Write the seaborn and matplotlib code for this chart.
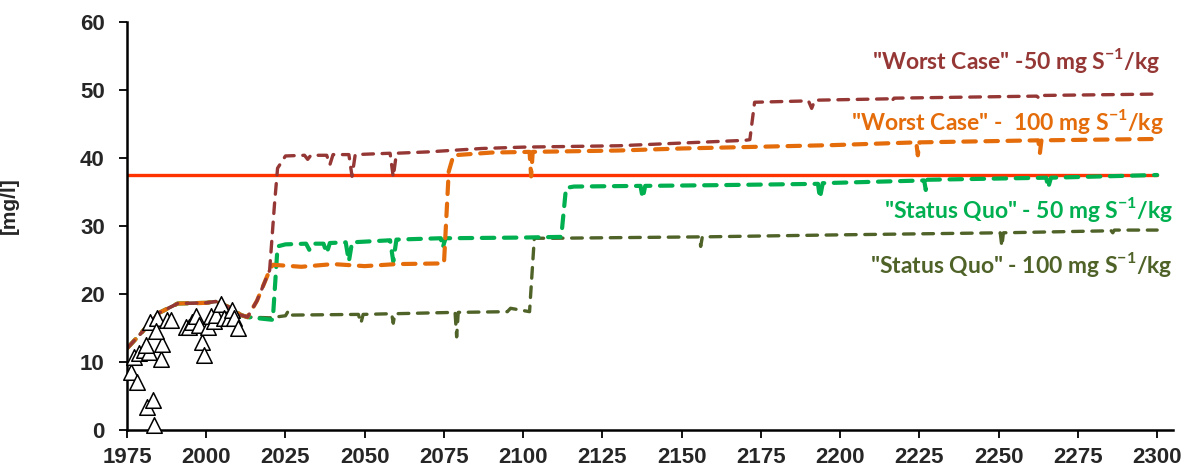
import matplotlib
matplotlib.use("Agg")
import matplotlib.pyplot as plt
import seaborn as sns
import pandas as pd

sns.set_theme(style="white")
plt.rcParams['font.family'] = ['Liberation Sans', 'DejaVu Sans']
plt.rcParams['font.weight'] = 'bold'
plt.rcParams['axes.labelweight'] = 'bold'

# ---------------- data ----------------
early_years = [1975, 1979, 1985, 1991, 2000, 2003, 2007, 2011, 2013]
early_vals = [12.0, 14.0, 17.2, 18.6, 18.7, 18.9, 18.1, 16.9, 16.6]

wc50_years = [2016, 2020, 2021.5, 2022.5, 2025, 2031, 2032, 2033, 2038, 2039, 2040, 2045, 2046, 2047,
              2058, 2059, 2060, 2070, 2087, 2100, 2130, 2150, 2170, 2171.5, 2173, 2190, 2191, 2192,
              2215, 2216, 2217, 2262, 2263, 2264, 2300]
wc50_vals = [19.0, 23.5, 33.0, 38.5, 40.3, 40.4, 39.8, 40.4, 40.4, 39.0, 40.5, 40.5, 37.3, 40.5,
             40.7, 37.2, 40.7, 40.9, 41.4, 41.6, 41.8, 42.2, 42.6, 42.7, 48.2, 48.4, 47.3, 48.5,
             48.7, 48.2, 48.8, 49.1, 48.7, 49.2, 49.4]

wc100_years = [2016, 2020, 2021, 2030, 2040, 2050, 2060, 2075, 2076.5, 2078, 2090, 2102, 2102.5, 2103,
               2130, 2150, 2198, 2224, 2224.5, 2225, 2262.5, 2263, 2263.5, 2300]
wc100_vals = [19.0, 23.5, 24.3, 24.0, 24.4, 24.1, 24.4, 24.5, 38.0, 40.4, 40.8, 40.9, 37.3, 40.9,
              41.1, 41.4, 41.9, 42.3, 40.4, 42.3, 42.6, 40.7, 42.6, 42.8]

sq50_years = [2021, 2022.5, 2025, 2031.5, 2032.5, 2033.5, 2037, 2038, 2039, 2044, 2045, 2046, 2058,
              2059, 2060, 2074, 2074.6, 2075.5, 2100, 2112, 2113.5, 2116, 2137, 2137.7, 2138.5, 2160,
              2193, 2193.6, 2194.5, 2226.5, 2227, 2227.5, 2265, 2265.6, 2266.5, 2300]
sq50_vals = [16.2, 27.0, 27.3, 27.4, 26.5, 27.4, 27.4, 26.0, 27.5, 27.6, 24.8, 27.6, 27.9,
             24.8, 28.0, 28.2, 26.8, 28.2, 28.3, 28.4, 35.6, 35.8, 35.9, 34.1, 35.9, 36.0,
             36.2, 34.1, 36.3, 36.7, 35.3, 36.8, 37.1, 35.6, 37.1, 37.5]

sq100_years = [2020, 2025, 2026, 2027, 2048, 2048.8, 2049.5, 2058.5, 2059, 2059.5, 2078.5, 2079, 2079.5,
               2095, 2096, 2102, 2103.5, 2110, 2155.5, 2156, 2156.5, 2200, 2250.5, 2251, 2251.5,
               2285.5, 2286, 2286.5, 2300]
sq100_vals = [16.5, 16.8, 17.6, 16.9, 17.0, 15.7, 17.0, 17.1, 15.7, 17.1, 17.3, 13.7, 17.3,
              17.4, 17.9, 17.4, 28.2, 28.2, 28.4, 27.0, 28.4, 28.7, 29.0, 27.0, 29.0,
              29.3, 29.0, 29.4, 29.4]

limit_years = [1975, 2300]
limit_vals = [37.5, 37.5]

obs_years = [1976.2, 1978.3, 1977.2, 1978.8, 1980.4, 1981.9, 1980.9, 1981.4, 1983.3, 1983.5,
             1985.6, 1986.1, 1982.4, 1984.5, 1984.0, 1987.7, 1988.8, 1993.5, 1994.6, 1995.6,
             1996.7, 1997.7, 1998.8, 1999.3, 2000.4, 2001.4, 2002.5, 2003.0, 2004.6, 2005.6,
             2007.2, 2008.2, 2008.8, 2009.9]
obs_vals = [8.6, 7.1, 10.8, 11.3, 11.8, 11.5, 12.5, 3.4, 4.4, 0.7,
            10.5, 12.7, 15.9, 16.4, 14.5, 16.2, 16.2, 15.2, 15.2, 15.9,
            16.7, 15.4, 13.0, 11.0, 15.2, 16.7, 16.0, 16.9, 18.6, 16.4,
            16.4, 17.6, 16.4, 15.0]

series_labels = ['"Worst Case" -50 mg S$^{\\mathregular{-1}}$/kg',
                 '"Worst Case" -  100 mg S$^{\\mathregular{-1}}$/kg',
                 '"Status Quo" - 50 mg S$^{\\mathregular{-1}}$/kg',
                 '"Status Quo" - 100 mg S$^{\\mathregular{-1}}$/kg']
x_ticks = [1975, 2000, 2025, 2050, 2075, 2100, 2125, 2150, 2175, 2200, 2225, 2250, 2275, 2300]
y_ticks = [0, 10, 20, 30, 40, 50, 60]

# ---------------- plot ----------------
fig = plt.figure(figsize=(11.91, 4.68), dpi=100)
ax = fig.add_axes([127 / 1191, 38 / 468, 1046 / 1191, 408 / 468])

c_brown = '#953735'
c_orange = '#E46C0A'
c_green = '#00B050'
c_olive = '#4F6228'
c_red = '#FF3300'

def draw(years, vals, color, lw, dash):
    df = pd.DataFrame({'year': early_years + years, 'val': early_vals + vals})
    sns.lineplot(data=df, x='year', y='val', ax=ax, color=color, lw=lw,
                 estimator=None, sort=False)
    line = ax.lines[-1]
    line.set_dashes(dash)
    line.set_dash_capstyle('round')
    line.set_solid_capstyle('round')

sns.lineplot(x=limit_years, y=limit_vals, ax=ax, color=c_red, lw=2.4, estimator=None)
draw(sq100_years, sq100_vals, c_olive, 2.4, (3.2, 2.6))
draw(sq50_years, sq50_vals, c_green, 3.0, (3.0, 2.3))
draw(wc100_years, wc100_vals, c_orange, 3.0, (3.0, 2.3))
draw(wc50_years, wc50_vals, c_brown, 2.4, (3.2, 2.6))

sns.scatterplot(x=obs_years, y=obs_vals, ax=ax, marker='^', s=125, facecolor='white',
                edgecolor='black', linewidth=1.1, zorder=5, clip_on=False)

ax.set_xlim(1975, 2305)
ax.set_ylim(0, 60)
ax.set_xticks(x_ticks)
ax.set_yticks(y_ticks)
ax.tick_params(axis='both', which='major', direction='out', length=6,
               width=1.3, color='black', bottom=True, left=True)
ax.tick_params(axis='y', pad=10)
ax.tick_params(axis='x', pad=6)
ax.set_xlabel('')
ax.set_ylabel('[mg/l]', fontsize=15, fontweight='bold')
ax.yaxis.set_label_coords(-0.103, 0.549)
for s in ['top', 'right']:
    ax.spines[s].set_visible(False)
for s in ['left', 'bottom']:
    ax.spines[s].set_color('black')
    ax.spines[s].set_linewidth(1.8)
ax.grid(False)

fig.canvas.draw()
for t in ax.xaxis.get_major_ticks() + ax.yaxis.get_major_ticks():
    t.label1.set_fontsize(16)
    t.label1.set_fontweight('bold')
    t.label1.set_fontfamily('Liberation Sans')

lab_font = ['Lato', 'DejaVu Sans']
fs = 16.5
ax.text(2301, 54.4, series_labels[0], color=c_brown, fontsize=fs, fontweight='bold',
        family=lab_font, ha='right', va='center', clip_on=False)
ax.text(2302, 45.3, series_labels[1], color=c_orange, fontsize=fs, fontweight='bold',
        family=lab_font, ha='right', va='center', clip_on=False)
ax.text(2305, 32.4, series_labels[2], color=c_green, fontsize=fs, fontweight='bold',
        family=lab_font, ha='right', va='center', clip_on=False)
ax.text(2305, 24.3, series_labels[3], color=c_olive, fontsize=fs, fontweight='bold',
        family=lab_font, ha='right', va='center', clip_on=False)

fig.savefig('out.png', dpi=100)
